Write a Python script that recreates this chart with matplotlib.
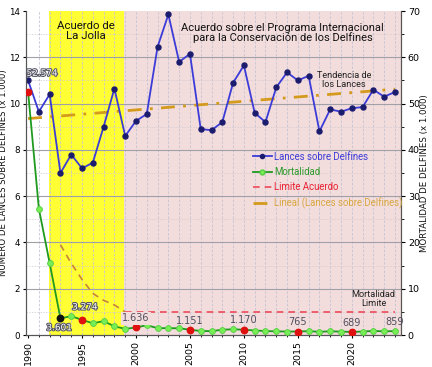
import numpy as np
import matplotlib
matplotlib.use("Agg")
import matplotlib.pyplot as plt
import matplotlib.patheffects as pe
from matplotlib.lines import Line2D

plt.rcParams['font.family'] = ['DejaVu Sans']
NARROW = ['Liberation Sans Narrow', 'Roboto', 'DejaVu Sans']

years = list(range(1990, 2025))
lances = [11.0, 9.65, 10.4, 7.0, 7.8, 7.2, 7.45, 9.0, 10.65, 8.6,
          9.25, 9.55, 12.45, 13.85, 11.8, 12.15, 8.9, 8.85, 9.2, 10.9,
          11.65, 9.6, 9.2, 10.7, 11.35, 11.0, 11.2, 8.8, 9.75, 9.65,
          9.8, 9.85, 10.6, 10.3, 10.5]
mortalidad = [52.574, 27.292, 15.539, 3.601, 4.095, 3.274, 2.547, 3.005, 1.877, 1.348,
              1.636, 2.129, 1.499, 1.492, 1.469, 1.151, 0.886, 0.837, 1.168, 1.239,
              1.170, 0.985, 0.870, 0.792, 0.766, 0.765, 0.850, 0.700, 0.820, 0.740,
              0.689, 0.750, 0.900, 0.800, 0.859]
limite_years_lj = [1993, 1994, 1995, 1996, 1997, 1998, 1999]
limite_lj = [19.5, 15.5, 12.0, 9.0, 7.5, 6.5, 5.0]
limite_years_aidcp = [1999, 2024]
limite_aidcp = [5.0, 5.0]
red_years = [1990, 1995, 2000, 2005, 2010, 2015, 2020]
black_years = [1993]
label_years_gray = [2000, 2005, 2010, 2015, 2020, 2024]
label_text_gray = ["1.636", "1.151", "1.170", "765", "689", "859"]
label_years_outline = [1990, 1993, 1995]
label_text_outline = ["52.574", "3.601", "3.274"]

fig = plt.figure(figsize=(4.32, 3.67), dpi=100)
ax = fig.add_axes([0.060, 0.087, 0.868, 0.883])
ax2 = ax.twinx()

x0, x1 = 1989.8, 2024.55
ax.set_xlim(x0, x1)
ax.set_ylim(0, 14)
ax2.set_ylim(0, 70)

# shaded regions
ax.axvspan(1991.9, 1998.9, color='#ffff33', zorder=0, lw=0)
ax.axvspan(1998.9, x1, color='#f3dcdc', zorder=0, lw=0)

# grids
for yr in years[1:]:
    ax.axvline(yr, color='#c4c4d4', lw=0.6, ls=(0, (3, 2)), zorder=0.5)
for v in np.arange(1, 14, 1):
    if v % 2 == 0:
        ax.axhline(v, color='#a0a0a8', lw=0.8, zorder=0.6)
    else:
        ax.axhline(v, color='#d0c8d0', lw=0.5, ls=(0, (2, 2)), zorder=0.6)

# trend
coef = np.polyfit(years, lances, 1)
tx = np.array([years[0], years[-1]])
ax.plot(tx, np.polyval(coef, tx), color='#d49a1c', lw=2.0, ls=(0, (5, 3, 1, 3)), zorder=2)

# lances
ax.plot(years, lances, color='#3b3bd8', lw=1.3, marker='o', ms=3.6,
        mfc='#1c1c6e', mec='#1c1c6e', zorder=4)

# limits
ax2.plot(limite_years_lj, limite_lj, color='#c8823a', lw=1.2, ls=(0, (4, 3)), zorder=3)
ax2.plot(limite_years_aidcp, limite_aidcp, color='#ee4a5a', lw=1.2, ls=(0, (4, 3)), zorder=3)

# mortalidad
ax2.plot(years, mortalidad, color='#1f9a1f', lw=1.3, marker='o', ms=4.2,
         mfc='#77ee55', mec='#55cc44', mew=0.6, zorder=5)
for y in red_years:
    ax2.plot(y, mortalidad[years.index(y)], 'o', color='#e01010', ms=4.6, zorder=6)
for y in black_years:
    ax2.plot(y, mortalidad[years.index(y)], 'o', color='#101010', ms=4.6, zorder=6)

# labels
for y, t in zip(label_years_gray, label_text_gray):
    ax2.annotate(t, (y, mortalidad[years.index(y)]), xytext=(0, 3), textcoords='offset points',
                 ha='center', va='bottom', fontsize=7, color='#505060', zorder=7,
                 bbox=dict(boxstyle='square,pad=0.15', fc='#f3dcdc', ec='none') if y == 2000 else None)
offs = [(10, 10), (-1, -10), (2, 6)]
for (y, t), o in zip(zip(label_years_outline, label_text_outline), offs):
    ax2.annotate(t, (y, mortalidad[years.index(y)]), xytext=o, textcoords='offset points',
                 ha='center', va='bottom', fontsize=6.4, color='white', zorder=8,
                 path_effects=[pe.withStroke(linewidth=1.5, foreground='#555566')])

# region annotations
ax.text(1995.35, 13.15, "Acuerdo de\nLa Jolla", ha='center', va='center', fontsize=8.2,
        color='#111111', linespacing=1.0, family=NARROW)
ax.text(2013.6, 13.06, "Acuerdo sobre el Programa Internacional\npara la Conservación de los Delfines",
        ha='center', va='center', fontsize=8.0, color='#111111', linespacing=0.95, family=NARROW)
ax.text(2019.3, 11.0, "Tendencia de\nlos Lances", ha='center', va='center', fontsize=6.6,
        color='#222222', linespacing=1.0, family=NARROW)
ax2.text(2022.0, 7.7, "Mortalidad\nLimite", ha='center', va='center', fontsize=6.6,
         color='#222222', linespacing=1.0, family=NARROW)

# ticks
ax.set_xticks(range(1990, 2021, 5))
ax.set_xticklabels([str(v) for v in range(1990, 2021, 5)], rotation=90, fontsize=6.8)
ax.set_xticks(years, minor=True)
ax.set_yticks(range(0, 15, 2))
ax.set_yticklabels([str(v) for v in range(0, 15, 2)], fontsize=6.3)
ax2.set_yticks(range(0, 71, 10))
ax2.set_yticklabels([str(v) for v in range(0, 71, 10)], fontsize=6.8)
ax2.set_yticks(range(0, 71, 5), minor=True)
ax.tick_params(axis='x', length=2.5, pad=2)
ax.tick_params(axis='y', length=2.5, pad=1.5)
ax.tick_params(axis='x', which='minor', length=1.5)
ax2.tick_params(axis='y', length=3, pad=2)
ax2.tick_params(axis='y', which='minor', length=2)

ax.set_ylabel("NÚMERO DE LANCES SOBRE DELFINES (x 1.000)", fontsize=6.1, color='#111111')
ax.yaxis.set_label_coords(-0.047, 0.5)
ax2.set_ylabel("MORTALIDAD DE DELFINES (x 1.000)", fontsize=6.2, color='#111111')
ax2.yaxis.set_label_coords(1.052, 0.5)

for s in ['top']:
    ax.spines[s].set_visible(False)
    ax2.spines[s].set_visible(False)
for a in (ax, ax2):
    for s in a.spines.values():
        s.set_color('#555555')
        s.set_linewidth(0.8)

# legend
handles = [
    Line2D([], [], color='#3b3bd8', lw=1.3, marker='o', ms=3, mfc='#1c1c6e', mec='#1c1c6e'),
    Line2D([], [], color='#1f9a1f', lw=1.3, marker='o', ms=3.5, mfc='#77ee55', mec='#55cc44'),
    Line2D([], [], color='#ee4a5a', lw=1.2, ls=(0, (4, 3))),
    Line2D([], [], color='#d49a1c', lw=2.0, ls=(0, (5, 3, 1, 3))),
]
labels = ["Lances sobre Delfines", "Mortalidad", "Limite Acuerdo", "Lineal (Lances sobre Delfines)"]
leg = ax2.legend(handles, labels, loc='upper left', bbox_to_anchor=(0.605, 0.566), frameon=False,
                 prop={'family': NARROW, 'size': 6.9}, handlelength=2.0, handletextpad=0.2,
                 labelspacing=0.55, borderaxespad=0, borderpad=0)
for t, c in zip(leg.get_texts(), ['#3b3bd8', '#2a9a2a', '#e82030', '#d8a840']):
    t.set_color(c)

fig.savefig("out.png", dpi=100)
